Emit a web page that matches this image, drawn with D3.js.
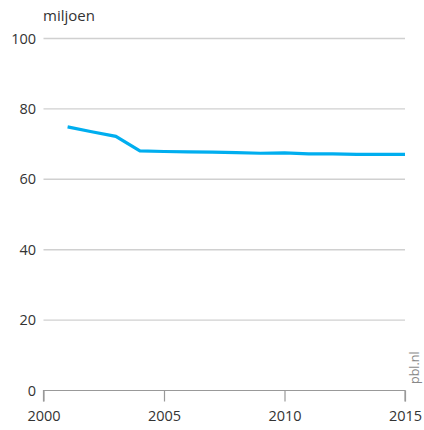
<!DOCTYPE html>
<html>
<head>
<meta charset="utf-8">
<script src="https://cdn.jsdelivr.net/npm/d3@7"></script>
<style>
  html, body { margin: 0; padding: 0; background: #fff; }
  svg { display: block; font-family: "Open Sans", Lato, sans-serif; }
</style>
</head>
<body>
<svg id="chart" width="424" height="430"></svg>
<script>
// Years and values (miljoen)
const years = [2001, 2002, 2003, 2004, 2005, 2006, 2007, 2008, 2009, 2010, 2011, 2012, 2013, 2014, 2015];
const values = [74.9, 73.5, 72.2, 68.1, 67.9, 67.8, 67.7, 67.6, 67.4, 67.5, 67.2, 67.2, 67.1, 67.1, 67.1];
const yTicks = [0, 20, 40, 60, 80, 100];
const xTicks = [2000, 2005, 2010, 2015];
const unitLabel = "miljoen";
const sourceLabel = "pbl.nl";

const svg = d3.select("#chart");
const plotLeft = 43.5, plotRight = 405, plotTop = 38.5, plotBottom = 390.5;
const fontStack = "'Open Sans', Lato, sans-serif";

const x = d3.scaleLinear().domain([2000, 2015]).range([plotLeft, plotRight]);
const y = d3.scaleLinear().domain([0, 100]).range([plotBottom, plotTop]);

// Horizontal gridlines
svg.append("g")
  .selectAll("line")
  .data(yTicks.filter(d => d > 0))
  .join("line")
  .attr("x1", plotLeft).attr("x2", plotRight)
  .attr("y1", d => y(d)).attr("y2", d => y(d))
  .attr("stroke", "#d0d0d0").attr("stroke-width", 1.4);

// Y tick labels
svg.append("g")
  .selectAll("text")
  .data(yTicks)
  .join("text")
  .attr("x", 36).attr("y", d => y(d) + 5)
  .attr("text-anchor", "end")
  .attr("font-size", 14.5).attr("fill", "#333")
  .text(d => d);

// X axis
const xAxis = d3.axisBottom(x).tickValues(xTicks).tickFormat(d3.format("d")).tickSize(11).tickPadding(9);
const gx = svg.append("g").attr("transform", `translate(0,${plotBottom})`).call(xAxis);
gx.select(".domain").attr("stroke", "#999").attr("stroke-width", 1.2).attr("d", `M${plotLeft},11V0H${plotRight}V11`);
gx.selectAll(".tick line").attr("stroke", "#999").attr("stroke-width", 1.2);
gx.selectAll(".tick text").attr("font-size", 14.5).attr("fill", "#333").attr("font-family", fontStack);

// Unit label
svg.append("text")
  .attr("x", 43).attr("y", 21)
  .attr("font-size", 15).attr("fill", "#333")
  .text(unitLabel);

// Data line
const line = d3.line().x((d, i) => x(years[i])).y(d => y(d));
svg.append("path")
  .datum(values)
  .attr("d", line)
  .attr("fill", "none")
  .attr("stroke", "#00aeef")
  .attr("stroke-width", 3.2)
  .attr("stroke-linejoin", "miter");

// Source label, rotated along the right edge
svg.append("text")
  .attr("transform", `translate(419,384) rotate(-90)`)
  .attr("font-size", 12.5).attr("fill", "#888")
  .text(sourceLabel);
</script>
</body>
</html>
